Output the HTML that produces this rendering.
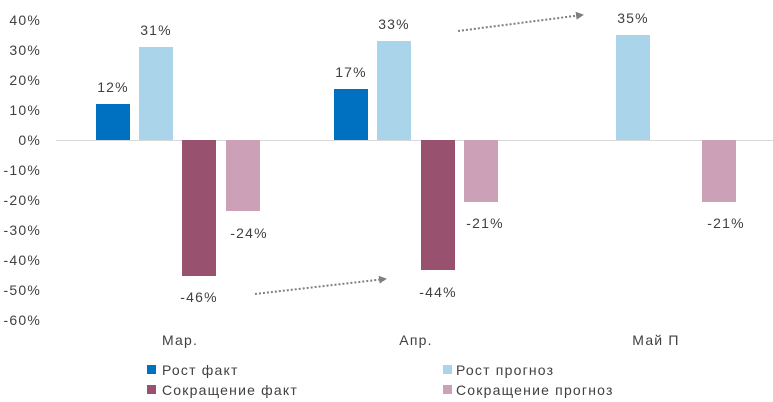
<!DOCTYPE html>
<html><head><meta charset="utf-8"><style>body{margin:0;background:#fff}svg{display:block}text{font-family:"Liberation Sans",sans-serif;font-size:14px;fill:#404040;letter-spacing:1.2px}</style></head><body>
<svg width="773" height="402" viewBox="0 0 773 402">
<defs><marker id="a" markerWidth="8" markerHeight="8" refX="6" refY="4" orient="auto" markerUnits="userSpaceOnUse"><path d="M0,0L8,4L0,8z" fill="#7f7f7f"/></marker></defs>
<g text-anchor="end">
<text x="41" y="25">40%</text><text x="41" y="55">30%</text><text x="41" y="85">20%</text><text x="41" y="115">10%</text><text x="41" y="145">0%</text><text x="41" y="175">-10%</text><text x="41" y="205">-20%</text><text x="41" y="235">-30%</text><text x="41" y="265">-40%</text><text x="41" y="295">-50%</text><text x="41" y="325">-60%</text>
</g>
<line x1="56" y1="140.5" x2="773" y2="140.5" stroke="#d9d9d9"/>
<rect x="96" y="104" width="34" height="36" fill="#0070c0"/>
<rect x="139" y="47" width="34" height="93" fill="#a9d4ea"/>
<rect x="182" y="140" width="34" height="136" fill="#98516f"/>
<rect x="226" y="140" width="34" height="71" fill="#cca0b6"/>
<rect x="334" y="89" width="34" height="51" fill="#0070c0"/>
<rect x="377" y="41" width="34" height="99" fill="#a9d4ea"/>
<rect x="421" y="140" width="34" height="130" fill="#98516f"/>
<rect x="464" y="140" width="34" height="62" fill="#cca0b6"/>
<rect x="616" y="35" width="34" height="105" fill="#a9d4ea"/>
<rect x="702" y="140" width="34" height="62" fill="#cca0b6"/>
<g text-anchor="middle">
<text x="113" y="92">12%</text><text x="156" y="35">31%</text><text x="199" y="302">-46%</text><text x="249" y="238">-24%</text>
<text x="351" y="77">17%</text><text x="394" y="29">33%</text><text x="438" y="297">-44%</text><text x="485" y="228">-21%</text>
<text x="633" y="23">35%</text><text x="726" y="228">-21%</text>
<text x="180" y="345">Мар.</text><text x="416" y="345">Апр.</text><text x="656" y="345">Май П</text>
</g>
<line x1="255" y1="294" x2="385" y2="279" stroke="#7f7f7f" stroke-width="2" stroke-dasharray="2,2" marker-end="url(#a)"/>
<line x1="458" y1="31" x2="582" y2="15" stroke="#7f7f7f" stroke-width="2" stroke-dasharray="2,2" marker-end="url(#a)"/>
<rect x="147" y="365" width="9" height="9" fill="#0070c0"/><text x="162" y="375">Рост факт</text>
<rect x="443" y="365" width="9" height="9" fill="#a9d4ea"/><text x="456" y="375">Рост прогноз</text>
<rect x="147" y="385" width="9" height="9" fill="#98516f"/><text x="162" y="395">Сокращение факт</text>
<rect x="443" y="385" width="9" height="9" fill="#cca0b6"/><text x="456" y="395">Сокращение прогноз</text>
</svg></body></html>
